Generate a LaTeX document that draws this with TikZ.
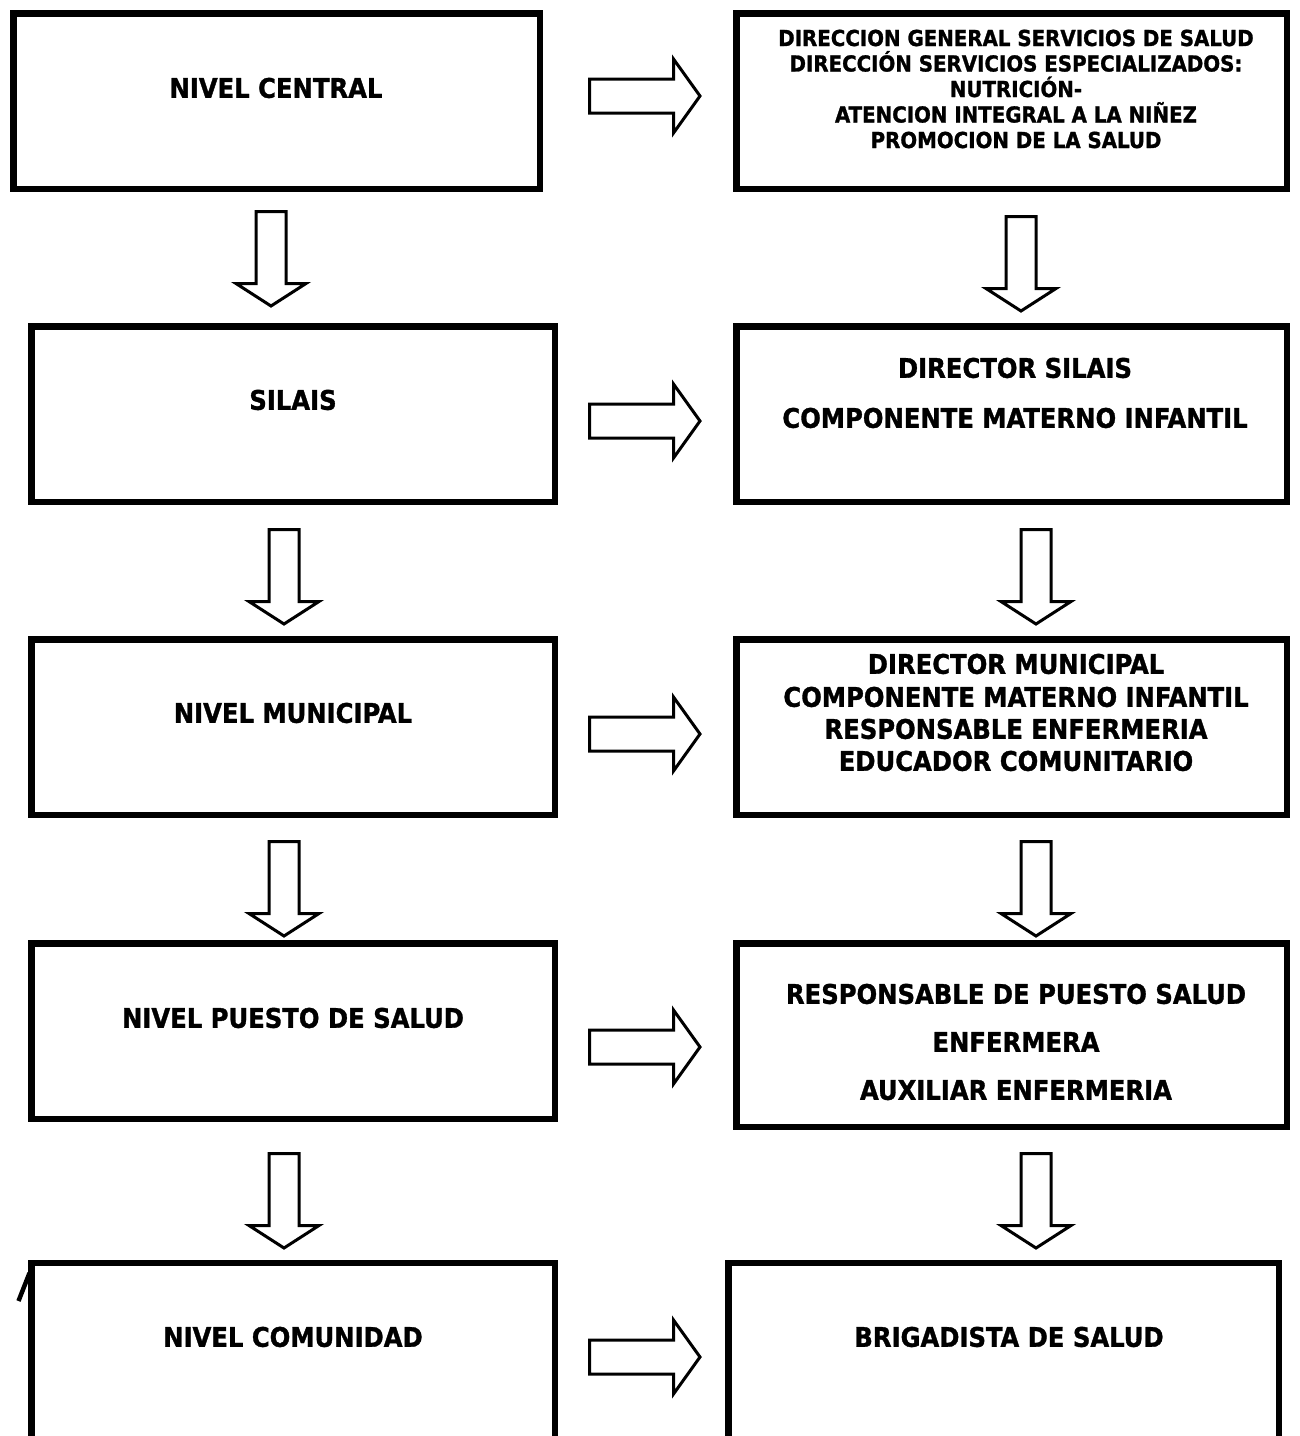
\documentclass[tikz,border=0pt]{standalone}
\usepackage{fontspec}
\newfontfamily\tfont{DejaVu Sans Condensed Bold}[FakeBold=1.2]
\begin{document}
\begin{tikzpicture}[x=1pt,y=-1pt,
  box/.style={draw,line width=6.5pt,fill=white,rectangle,inner sep=0pt,
              minimum width=#1},
  box/.default=523.5pt,
  lbl/.style={anchor=base,inner sep=0pt,font=\tfont\fontsize{27}{32}\selectfont},
  lbls/.style={anchor=base,inner sep=0pt,font=\tfont\fontsize{22}{25}\selectfont},
  arrowline/.style={draw,line width=3pt,fill=white,line join=miter},
  pics/downarr/.style={code={
    \path[arrowline] (-15,1.5) -- (15,1.5) -- (15,73.5) -- (35,73.5) -- (0,96)
       -- (-35,73.5) -- (-15,73.5) -- cycle;}},
  pics/rightarr/.style={code={
    \path[arrowline] (1.5,-17) -- (85.5,-17) -- (85.5,-37) -- (112,0)
       -- (85.5,37) -- (85.5,17) -- (1.5,17) -- cycle;}}
]
\useasboundingbox (0,0) rectangle (1300,1436);
\clip (0,0) rectangle (1300,1436);

% stray stroke partly hidden by the last box
\draw[line width=4.5pt] (18.5,1301) -- (29.5,1273);

% left column
\node[box=526.5pt,minimum height=175.5pt] (L1) at (276.5,101) {};
\node[box,minimum height=175.5pt] (L2) at (293,414) {};
\node[box,minimum height=175.5pt] (L3) at (293,727) {};
\node[box,minimum height=175.5pt] (L4) at (293,1031) {};
\node[box,minimum height=184pt] (L5) at (293,1355) {};

% right column
\node[box=550.5pt,minimum height=175.5pt] (R1) at (1011.5,101) {};
\node[box=550.5pt,minimum height=175.5pt] (R2) at (1011.5,414) {};
\node[box=550.5pt,minimum height=175.5pt] (R3) at (1011.5,727) {};
\node[box=550.5pt,minimum height=183.5pt] (R4) at (1011.5,1035) {};
\node[box=550.5pt,minimum height=184pt] (R5) at (1003.5,1355) {};

% left labels
\node[lbl] (L1t) at (276,97.8) {NIVEL CENTRAL};
\node[lbl] (L2t) at (293,409.8) {SILAIS};
\node[lbl] (L3t) at (293,722.8) {NIVEL MUNICIPAL};
\node[lbl] (L4t) at (293,1027.8) {NIVEL PUESTO DE SALUD};
\node[lbl] (L5t) at (293,1346.8) {NIVEL COMUNIDAD};

% right labels
\node[lbls] (R1a) at (1016,46) {DIRECCION GENERAL SERVICIOS DE SALUD};
\node[lbls] (R1b) at (1016,71.5) {DIRECCIÓN SERVICIOS ESPECIALIZADOS:};
\node[lbls] (R1c) at (1016,97) {NUTRICIÓN-};
\node[lbls] (R1d) at (1016,122.5) {ATENCION INTEGRAL A LA NIÑEZ};
\node[lbls] (R1e) at (1016,148) {PROMOCION DE LA SALUD};

\node[lbl] (R2a) at (1015,377.8) {DIRECTOR SILAIS};
\node[lbl] (R2b) at (1015,427.8) {COMPONENTE MATERNO INFANTIL};

\node[lbl] (R3a) at (1016,673.8) {DIRECTOR MUNICIPAL};
\node[lbl] (R3b) at (1016,706.8) {COMPONENTE MATERNO INFANTIL};
\node[lbl] (R3c) at (1016,738.8) {RESPONSABLE ENFERMERIA};
\node[lbl] (R3d) at (1016,770.8) {EDUCADOR COMUNITARIO};

\node[lbl] (R4a) at (1016,1003.8) {RESPONSABLE DE PUESTO SALUD};
\node[lbl] (R4b) at (1016,1051.8) {ENFERMERA};
\node[lbl] (R4c) at (1016,1099.8) {AUXILIAR ENFERMERIA};

\node[lbl] (R5t) at (1009,1346.8) {BRIGADISTA DE SALUD};

% down arrows, left
\pic at (271,210) {downarr};
\pic at (284,528) {downarr};
\pic at (284,840) {downarr};
\pic at (284,1152) {downarr};
% down arrows, right
\pic at (1021,215) {downarr};
\pic at (1036,528) {downarr};
\pic at (1036,840) {downarr};
\pic at (1036,1152) {downarr};
% right arrows
\pic at (588,96) {rightarr};
\pic at (588,421) {rightarr};
\pic at (588,734) {rightarr};
\pic at (588,1047) {rightarr};
\pic at (588,1357) {rightarr};
\end{tikzpicture}
\end{document}
